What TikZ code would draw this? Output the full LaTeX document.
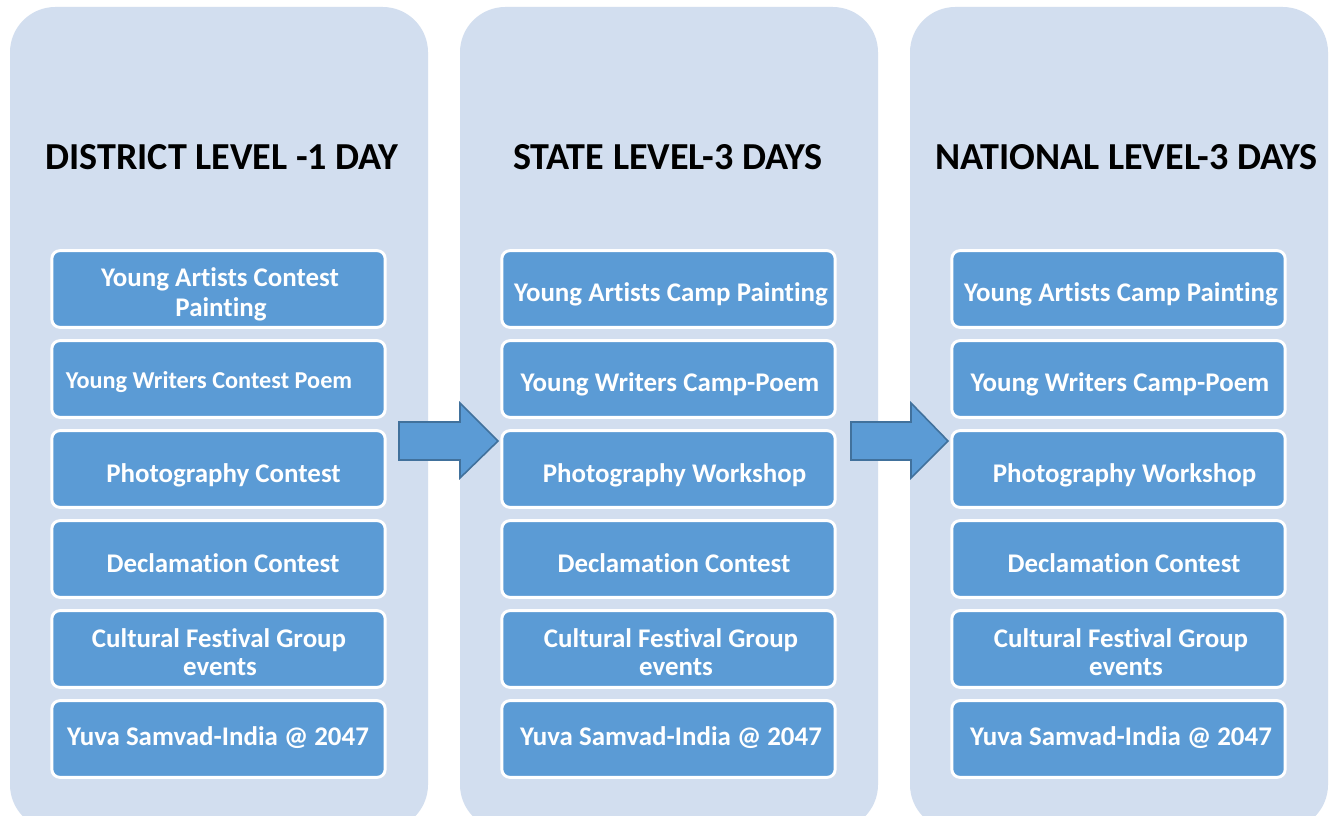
\documentclass[tikz,border=0pt]{standalone}
\usepackage{fontspec}
\setmainfont{Carlito}[Ligatures={NoCommon}]
\definecolor{colbg}{HTML}{D2DEEF}
\definecolor{itemfill}{HTML}{5B9BD5}
\definecolor{arrline}{HTML}{41719C}
\tikzset{
  colbox/.style={fill=colbg, draw=none, rounded corners=34pt},
  item/.style={fill=itemfill, draw=white, line width=2.2pt, rounded corners=6pt,
    minimum width=250pt, minimum height=57.5pt, inner sep=0pt},
  lbl/.style={anchor=base, text=white, inner sep=0pt, font=\fontsize{20.2}{22}\selectfont\bfseries},
  small/.style={font=\fontsize{18.2}{22}\selectfont\bfseries},
  title/.style={anchor=base, font=\fontsize{28.6}{32}\selectfont\bfseries, text=black, inner sep=0pt},
  blockarrow/.style={fill=itemfill, draw=arrline, line width=1.2pt, line join=miter},
}
\begin{document}
\begin{tikzpicture}[x=0.75pt,y=-0.75pt]
\useasboundingbox (0,0) rectangle (1338,816);
\fill[white] (0,0) rectangle (1338,816);
% columns
\fill[colbox] (10,7) rectangle (428,830);
\fill[colbox] (460,7) rectangle (878,830);
\fill[colbox] (910,7) rectangle (1328,830);
% titles
\node[title] (t1) at (222,170) {DISTRICT LEVEL -1 DAY};
\node[title] (t2) at (668,170) {STATE LEVEL-3 DAYS};
\node[title] (t3) at (1126.5,170) {NATIONAL LEVEL-3 DAYS};
% boxes
\foreach \cx/\col in {218.5/a, 668.5/b, 1118.5/c}{
  \foreach \cy [count=\r] in {289,379,469,559,649,739}{
    \node[item] (\col\r) at (\cx,\cy) {};
  }
}
% column 1 labels
\node[lbl] (a1l1) at (220,287) {Young Artists Contest};
\node[lbl] (a1l2) at (221,317) {Painting};
\node[lbl, small] (a2l) at (209,388) {Young Writers Contest Poem};
\node[lbl] (a3l) at (223.5,482) {Photography Contest};
\node[lbl] (a4l) at (223,572) {Declamation Contest};
\node[lbl] (a5l1) at (219,647) {Cultural Festival Group};
\node[lbl] (a5l2) at (220,675) {events};
\node[lbl] (a6l) at (218,745) {Yuva Samvad-India @ 2047};
% column 2 and 3 labels
\foreach \dx/\col in {0/b, 450/c}{
  \node[lbl] (\col1l) at (671+\dx,302) {Young Artists Camp Painting};
  \node[lbl] (\col2l) at (670+\dx,392) {Young Writers Camp-Poem};
  \node[lbl] (\col3l) at (674.5+\dx,482) {Photography Workshop};
  \node[lbl] (\col4l) at (674+\dx,572) {Declamation Contest};
  \node[lbl] (\col5l1) at (671+\dx,647) {Cultural Festival Group};
  \node[lbl] (\col5l2) at (676+\dx,675) {events};
  \node[lbl] (\col6l) at (671+\dx,745) {Yuva Samvad-India @ 2047};
}
% arrows
\draw[blockarrow] (399,422) -- (460,422) -- (460,403) -- (498,441) -- (460,478) -- (460,460) -- (399,460) -- cycle;
\draw[blockarrow] (851,422) -- (911,422) -- (911,403) -- (948,441) -- (911,478) -- (911,460) -- (851,460) -- cycle;
\end{tikzpicture}
\end{document}
